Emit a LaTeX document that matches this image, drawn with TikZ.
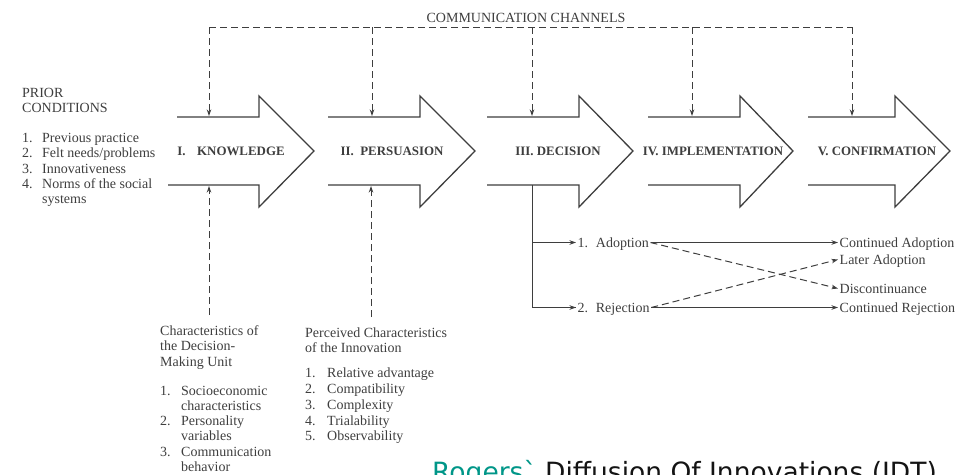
\documentclass[tikz,border=0pt]{standalone}
\usepackage{fontspec}
\setmainfont{Liberation Serif}
\newfontfamily\citefont{DejaVu Sans}[Ligatures=TeXOff]
\usetikzlibrary{arrows.meta}
\definecolor{ink}{RGB}{62,62,62}
\definecolor{rogersteal}{RGB}{0,150,136}
\definecolor{citeblack}{RGB}{20,20,20}
\begin{document}
\begin{tikzpicture}[x=1pt,y=-1pt,
  every node/.style={inner sep=0pt, text=ink},
  txt/.style={font=\fontsize{14}{16}\selectfont, anchor=base west},
  stage/.style={font=\fontsize{12.9}{14}\selectfont\bfseries},
  flowtxt/.style={txt, inner sep=1.5pt, text height=9pt, text depth=0pt},
  stagearrow/.style={draw=ink, line width=1.3pt, line join=miter},
  channel/.style={draw=ink, line width=1pt, dash pattern=on 7pt off 4pt},
  tip/.style={-{Stealth[length=6.5pt,width=4.5pt]}},
  flow/.style={draw=ink, line width=1pt},
]
\useasboundingbox (0,0) rectangle (973,474);
\clip (0,0) rectangle (973,474);

% ---- the five stage arrows (open on the left) ----
\foreach \lt/\lb/\b/\t in {177/168/259/314, 328/328/420/475, 487/487/579/633,
                           648/648/740/793, 808/808/895/950}{
  \draw[stagearrow] (\lt,117) -- (\b,117) -- (\b,96) -- (\t,151)
                    -- (\b,207) -- (\b,185) -- (\lb,185);
}
\node[stage] (s1) at (231,151) {I.\hspace{0.9em}KNOWLEDGE};
\node[stage] (s2) at (392,151) {II.\hspace{0.5em}PERSUASION};
\node[stage] (s3) at (558,151) {III. DECISION};
\node[stage] (s4) at (713,151) {IV. IMPLEMENTATION};
\node[stage] (s5) at (877,151) {V. CONFIRMATION};

% ---- communication channels ----
\node[font=\fontsize{14}{16}\selectfont, anchor=base] (cc) at (526,22) {COMMUNICATION CHANNELS};
\foreach \x [count=\n] in {209,372,532,692,852}{
  \coordinate (ch\n) at (\x,27);
  \coordinate (in\n) at (\x,116);
}
\draw[channel] (ch1) -- (ch5);
\foreach \n in {1,...,5} \draw[channel,tip] (ch\n) -- (in\n);

% ---- prior conditions ----
\node[txt] (pc1) at (22,97) {PRIOR};
\node[txt] (pc2) at (22,112) {CONDITIONS};
\foreach \s/\y [count=\i] in {1./142, 2./157, 3./173, 4./188}
  \node[txt] (pcn\i) at (22,\y) {\s};
\foreach \s/\y [count=\i] in {Previous practice/142, {Felt needs/problems}/157,
    Innovativeness/173, Norms of the social/188, systems/203}
  \node[txt] (pct\i) at (42,\y) {\s};

% ---- characteristics of the decision-making unit ----
\foreach \s/\y [count=\i] in {Characteristics of/335, the Decision-/350, Making Unit/366}
  \node[txt] (dmu\i) at (160,\y) {\s};
\foreach \s/\y [count=\i] in {1./395, 2./425, 3./456}
  \node[txt] (dmun\i) at (160,\y) {\s};
\foreach \s/\y [count=\i] in {Socioeconomic/395, characteristics/410, Personality/425,
    variables/440, Communication/456, behavior/471}
  \node[txt] (dmut\i) at (181,\y) {\s};

% ---- perceived characteristics of the innovation ----
\foreach \s/\y [count=\i] in {Perceived Characteristics/337, of the Innovation/352}
  \node[txt] (pci\i) at (305,\y) {\s};
\foreach \s/\y [count=\i] in {1./377, 2./393, 3./409, 4./425, 5./440}
  \node[txt] (pcin\i) at (305,\y) {\s};
\foreach \s/\y [count=\i] in {Relative advantage/377, Compatibility/393, Complexity/409,
    Trialability/425, Observability/440}
  \node[txt] (pcit\i) at (327,\y) {\s};

\coordinate (dmutop) at (209,315);
\coordinate (k1bot) at (209,186);
\coordinate (pcitop) at (371,317);
\coordinate (k2bot) at (371,186);
\draw[channel,tip] (dmutop) -- (k1bot);
\draw[channel,tip] (pcitop) -- (k2bot);

% ---- decision outcomes ----
\coordinate (dec) at (532,185);
\node[flowtxt] (adopt) at (576,247) {1.\hspace{0.55em}Adoption};
\node[flowtxt] (reject) at (576,312) {2.\hspace{0.55em}Rejection};
\node[flowtxt] (contA) at (838,247) {Continued Adoption};
\node[flowtxt] (later) at (838,264) {Later Adoption};
\node[flowtxt] (disc) at (838,293) {Discontinuance};
\node[flowtxt] (contR) at (838,312) {Continued Rejection};

\draw[flow] (dec) |- (reject.west);
\draw[flow,tip] (dec |- adopt.west) -- (adopt.west);
\draw[flow,tip] (dec |- reject.west) -- (reject.west);
\draw[flow,tip] (adopt.east) -- (contA.west);
\draw[flow,tip] (reject.east) -- (contR.west);
\draw[channel,tip] (adopt.east) -- (disc.west);
\draw[channel,tip] (reject.east) -- (later.west);

% ---- citation line ----
\node[font=\citefont\fontsize{26.5}{30}\selectfont, anchor=base west] (cite) at (432,481)
  {\textcolor{rogersteal}{Rogers\char"60}\ \textcolor{citeblack}{Diffusion Of Innovations (IDT)}};
\end{tikzpicture}
\end{document}
